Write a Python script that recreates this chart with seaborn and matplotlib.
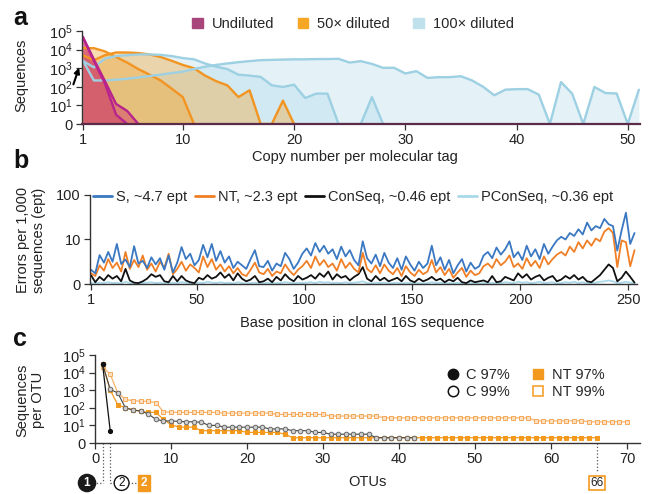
import pandas as pd
import seaborn as sns
import matplotlib.pyplot as plt
from matplotlib.patches import Patch
from matplotlib.lines import Line2D
from matplotlib import transforms
from matplotlib.ticker import NullLocator

# ---------------- data: panel a (sequences per copy number) ----------------
copy_number = list(range(1, 52))
undiluted_1 = [49000, 3000, 200, 12, 7, 0]
undiluted_2 = [49000, 2500, 150, 5, 0]
diluted50_1 = [12000, 12000, 8000, 4000, 2000, 900, 450, 220, 80, 28, 0]
diluted50_2 = [5000, 2700, 5000, 7000, 7000, 6500, 5500, 4000, 2500, 1500, 1000, 400,
               200, 120, 28, 65, 0, 0, 18, 0]
diluted100_1 = [2700, 220, 220, 240, 270, 320, 380, 450, 550, 650, 900, 1200, 1500, 1800,
                2100, 2400, 2700, 2800, 2900, 3000, 3000, 3100, 3100, 3200, 2000, 2400, 1700,
                1050, 1050, 520, 690, 300, 330, 330, 370, 220, 100, 35, 70, 75, 75, 38, 0,
                180, 43, 0, 98, 46, 44, 0, 70]
diluted100_2 = [2500, 1100, 3300, 4500, 5000, 5500, 5500, 5200, 4500, 3500, 3000, 1800, 1200,
                900, 450, 400, 340, 120, 98, 130, 25, 43, 43, 0, 0, 0, 28, 0]

# ---------------- data: panel b (errors per 1,000 sequences, every 2nd base) ----------------
base_pos = list(range(1, 254, 2))
err_s = [3.2, 2.4, 6.5, 4.8, 7.2, 5.0, 9.0, 4.5, 5.5, 3.8,
         8.5, 4.6, 5.2, 3.6, 6.0, 4.4, 5.8, 3.2, 6.4, 2.6,
         4.8, 8.3, 5.6, 6.8, 4.2, 5.4, 8.8, 6.0, 9.0, 5.2,
         7.4, 4.8, 6.2, 3.6, 5.0, 4.2, 3.4, 5.6, 7.6, 4.0,
         3.8, 5.2, 3.0, 4.6, 4.0, 7.0, 5.6, 3.4, 4.8, 6.8,
         8.0, 6.4, 9.2, 7.2, 8.6, 6.8, 7.8, 5.6, 8.4, 6.2,
         7.6, 5.4, 4.2, 9.6, 5.8, 4.6, 6.6, 4.0, 7.0, 4.8,
         3.6, 5.8, 3.2, 6.2, 4.4, 3.0, 5.0, 3.6, 4.6, 8.6,
         4.2, 6.0, 3.2, 5.4, 2.4, 4.2, 5.6, 2.8, 4.8, 3.4,
         4.0, 6.4, 7.2, 5.8, 8.2, 6.6, 7.8, 9.6, 6.0, 7.2,
         5.4, 8.6, 6.2, 7.8, 5.6, 9.0, 6.8, 8.4, 9.8, 11.5,
         10.0, 14.0, 12.0, 17.0, 13.0, 24.0, 16.0, 20.0, 18.0, 29.0,
         22.0, 20.0, 7.5, 16.0, 40.0, 9.0, 14.0]
err_nt = [2.4, 1.8, 4.2, 3.0, 5.6, 3.6, 4.8, 2.8, 7.2, 3.4,
          5.4, 3.8, 6.4, 3.2, 4.6, 2.8, 5.0, 3.6, 6.8, 2.2,
          3.4, 5.0, 3.0, 4.4, 3.6, 2.6, 6.2, 3.8, 5.6, 3.2,
          4.4, 2.8, 4.0, 2.4, 3.6, 2.2, 1.8, 3.2, 4.8, 2.6,
          2.2, 3.4, 1.8, 2.8, 2.4, 4.4, 3.0, 2.0, 3.2, 4.0,
          5.2, 3.6, 6.2, 4.2, 5.4, 3.8, 4.6, 3.0, 5.6, 3.6,
          4.8, 3.4, 2.6, 7.0, 3.4, 2.6, 4.2, 2.4, 4.4, 3.0,
          2.2, 3.6, 1.8, 4.0, 2.6, 1.8, 3.2, 2.2, 2.8, 5.4,
          2.6, 3.8, 2.0, 3.4, 1.4, 2.6, 3.6, 1.6, 3.0, 2.0,
          2.4, 4.0, 4.6, 3.6, 5.6, 4.2, 5.0, 6.4, 3.8, 4.6,
          3.4, 5.8, 4.0, 5.2, 3.6, 6.2, 4.4, 5.6, 6.6, 7.2,
          6.4, 8.4, 7.2, 9.4, 8.0, 9.8, 8.6, 10.5, 9.6, 15.0,
          18.0, 14.0, 3.8, 9.8, 9.4, 4.0, 7.6]
err_conseq = [2.0, 0.4, 1.6, 0.8, 2.0, 1.2, 1.8, 0.6, 3.4, 0.8,
              0.3, 0.2, 0.6, 1.2, 2.2, 1.6, 2.0, 0.6, 0.4, 1.8,
              0.6, 1.8, 0.8, 0.4, 0.2, 1.4, 1.0, 2.0, 1.2, 1.6,
              2.6, 1.4, 2.2, 0.8, 2.4, 1.2, 0.6, 1.0, 1.8, 0.4,
              0.6, 1.2, 0.4, 1.6, 0.8, 2.2, 1.2, 0.6, 1.8, 1.0,
              1.4, 2.0, 1.2, 2.4, 1.6, 2.8, 1.0, 2.2, 1.4, 1.8,
              0.8, 1.6, 2.2, 3.8, 1.2, 0.6, 1.8, 0.8, 1.4, 0.6,
              1.0, 1.4, 0.6, 1.8, 0.8, 0.4, 1.2, 0.6, 1.0, 1.6,
              0.8, 1.2, 0.4, 1.0, 0.6, 1.4, 0.4, 0.2, 0.8, 0.4,
              0.6, 0.8, 0.4, 1.8, 0.4, 0.6, 1.6, 1.2, 0.8, 2.4,
              1.4, 2.2, 1.0, 1.6, 2.0, 0.8, 1.4, 1.8, 0.6, 1.0,
              1.8, 1.2, 2.0, 1.0, 1.6, 0.6, 0.4, 1.2, 2.0, 3.2,
              4.4, 3.6, 0.6, 1.4, 2.8, 1.6, 0.3]
err_pconseq = [0.2, 0.1, 0.3, 0.2, 0.4, 0.2, 0.3, 0.1, 0.5, 0.2,
               0.1, 0.1, 0.2, 0.3, 0.4, 0.2, 0.3, 0.1, 0.2, 0.3,
               0.2, 0.4, 0.3, 0.1, 0.1, 0.3, 0.2, 0.5, 0.3, 0.2,
               0.4, 0.2, 0.3, 0.1, 0.4, 0.2, 0.1, 0.2, 0.3, 0.1,
               0.1, 0.3, 0.1, 0.2, 0.2, 0.4, 0.3, 0.1, 0.3, 0.2,
               0.3, 0.4, 0.2, 0.5, 0.3, 0.4, 0.2, 0.3, 0.2, 0.4,
               0.2, 0.3, 0.4, 0.6, 0.2, 0.1, 0.3, 0.2, 0.3, 0.1,
               0.2, 0.3, 0.1, 0.3, 0.2, 0.1, 0.2, 0.1, 0.2, 0.4,
               0.2, 0.3, 0.1, 0.2, 0.1, 0.3, 0.1, 0.1, 0.2, 0.1,
               0.1, 0.2, 0.1, 0.3, 0.1, 0.2, 0.4, 0.3, 0.2, 0.5,
               0.3, 0.4, 0.2, 0.3, 0.5, 0.2, 0.3, 0.4, 0.1, 0.2,
               0.4, 0.3, 0.5, 0.2, 0.4, 0.1, 0.1, 0.3, 0.5, 0.6,
               0.8, 0.6, 0.2, 0.3, 0.5, 0.3, 0.1]

# ---------------- data: panel c (sequences per OTU, ranked) ----------------
c97 = [30000, 7]
c99 = [30000, 1100, 700, 100, 75, 65, 45, 22, 18, 18, 17, 16, 16, 15, 10, 10, 9, 9, 9, 9,
       9, 9, 8, 8, 8, 7, 7, 7, 6, 6, 5, 5, 5, 5, 5, 5, 3, 3, 3, 3, 3, 3]
nt97 = [32000, 1000, 150, 100, 75, 65, 55, 55, 22, 11, 9, 9, 9, 7, 7, 7, 7, 7, 7, 6,
        6, 6, 6, 6, 5, 3, 3, 3, 3, 3, 3, 3, 3, 3, 3, 3, 3, 3, 3, 3, 3, 3, 3, 3, 3, 3,
        3, 3, 3, 3, 3, 3, 3, 3, 3, 3, 3, 3, 3, 3, 3, 3, 3, 3, 3, 3]
nt99 = [22000, 8000, 700, 300, 250, 240, 230, 200, 60, 55, 55, 55, 55, 55, 55, 55, 50, 50,
        50, 50, 50, 50, 50, 42, 42, 42, 42, 42, 42, 42, 34, 34, 34, 34, 34, 34, 34, 27, 27,
        27, 27, 27, 27, 27, 27, 27, 27, 27, 27, 27, 27, 27, 27, 27, 27, 27, 27, 18, 18, 18,
        18, 18, 18, 18, 16, 16, 16, 16, 16, 16]

# ---------------- styling ----------------
sns.set_style('ticks')
plt.rcParams['font.family'] = ['Liberation Sans', 'DejaVu Sans']
plt.rcParams['mathtext.fontset'] = 'custom'
plt.rcParams['mathtext.rm'] = 'Liberation Sans'
plt.rcParams['mathtext.it'] = 'Liberation Sans'
FS = 10.5
TXT = '#222222'

fig = plt.figure(figsize=(6.65, 4.94), dpi=100)
W, H = 665, 494
ax_a = fig.add_axes([81.6 / W, 1 - 124 / H, 558.4 / W, 93 / H])
ax_b = fig.add_axes([89.9 / W, 1 - 284 / H, 546.8 / W, 89 / H])
ax_c = fig.add_axes([95 / W, 1 - 443 / H, 545 / W, 88 / H])

log_ticks = [0, 10, 100, 1000, 10000, 100000]
log_labels = ['0'] + [r'$\mathregular{10^%d}$' % k for k in range(1, 6)]


def style_axis(ax):
    ax.set_yscale('symlog', linthresh=10, linscale=0.9)
    ax.yaxis.set_minor_locator(NullLocator())
    ax.xaxis.set_minor_locator(NullLocator())
    sns.despine(ax=ax)
    for s in ['left', 'bottom']:
        ax.spines[s].set_color('#333333')
        ax.spines[s].set_linewidth(1.0)
    ax.tick_params(direction='out', length=4.5, width=0.9, color='#333333',
                   labelsize=FS, labelcolor=TXT, pad=2)


# ---------------- panel a ----------------
blue_line, blue_fill = '#9dd0e2', '#a6d6e7'
orange_line, orange_fill = '#f29422', '#f2a93b'
mag_line, mag_fill = '#b8238e', '#d0406a'

for vals in [diluted100_1, diluted100_2]:
    ax_a.fill_between(copy_number[:len(vals)], vals, 0, color=blue_fill, alpha=0.3, lw=0)
for vals in [diluted50_1, diluted50_2]:
    ax_a.fill_between(copy_number[:len(vals)], vals, 0, color=orange_fill, alpha=0.4, lw=0)
for vals in [undiluted_1, undiluted_2]:
    ax_a.fill_between(copy_number[:len(vals)], vals, 0, color=mag_fill, alpha=0.5, lw=0)
for vals in [diluted50_1, diluted50_2]:
    sns.lineplot(x=copy_number[:len(vals)], y=vals, ax=ax_a, color=orange_line, lw=1.7)
for vals in [diluted100_1, diluted100_2]:
    sns.lineplot(x=copy_number[:len(vals)], y=vals, ax=ax_a, color=blue_line, lw=1.7)
for vals in [undiluted_1, undiluted_2]:
    sns.lineplot(x=copy_number[:len(vals)], y=vals, ax=ax_a, color=mag_line, lw=1.7)

style_axis(ax_a)
ax_a.set_ylim(0, 100000)
ax_a.set_xlim(0.9, 51.1)
ax_a.set_yticks(log_ticks)
ax_a.set_yticklabels(log_labels)
ax_a.set_xticks([1, 10, 20, 30, 40, 50])
ax_a.spines['bottom'].set_color('#5b2b47')
ax_a.spines['bottom'].set_linewidth(1.6)
ax_a.set_xlabel('Copy number per molecular tag', fontsize=FS, color=TXT)
ax_a.xaxis.set_label_coords(0.49, -0.355)
ax_a.xaxis.label.set_va('center')
ax_a.set_ylabel('Sequences', fontsize=FS, color=TXT)
ax_a.yaxis.set_label_coords(-0.1085, 0.527)
ax_a.yaxis.label.set_va('center')

ax_a.annotate('', xy=(80, H - 65), xycoords='figure pixels', xytext=(72.5, H - 87),
              textcoords='figure pixels',
              arrowprops=dict(arrowstyle='-|>', color='black', lw=1.5, mutation_scale=8))

leg_a = [Patch(color='#a8457a'), Patch(color='#f5a623'), Patch(color='#bfe1ec')]
fig.legend(leg_a, ['Undiluted', '50\u00d7 diluted', '100\u00d7 diluted'],
           loc='center left', bbox_to_anchor=(192 / W, 1 - 24 / H), ncol=3, frameon=False,
           fontsize=FS, handlelength=0.75, handleheight=0.75, handletextpad=0.6,
           columnspacing=1.6, borderpad=0, borderaxespad=0)

# ---------------- panel b ----------------
b_series = [(err_pconseq, '#a9d9ea', 'PConSeq, ~0.36 ept'),
            (err_conseq, '#111111', 'ConSeq, ~0.46 ept'),
            (err_nt, '#f07f25', 'NT, ~2.3 ept'),
            (err_s, '#3a78c2', 'S, ~4.7 ept')]
for vals, col, lab in b_series:
    sns.lineplot(x=base_pos, y=vals, ax=ax_b, color=col, lw=1.3)

style_axis(ax_b)
ax_b.set_ylim(0, 100)
ax_b.set_xlim(0.5, 254)
ax_b.set_yticks([0, 10, 100])
ax_b.set_yticklabels(['0', '10', '100'])
ax_b.set_xticks([1, 50, 100, 150, 200, 250])
ax_b.set_xlabel('Base position in clonal 16S sequence', fontsize=FS, color=TXT)
ax_b.xaxis.set_label_coords(0.498, -0.438)
ax_b.xaxis.label.set_va('center')
ax_b.set_ylabel('Errors per 1,000\nsequences (ept)', fontsize=FS, color=TXT, linespacing=1.15)
ax_b.yaxis.set_label_coords(-0.1077, 0.494)
ax_b.yaxis.label.set_va('center')

leg_b = [Line2D([], [], color=c, lw=2) for _, c, _ in b_series[::-1]]
fig.legend(leg_b, [l for _, _, l in b_series[::-1]], loc='center left',
           bbox_to_anchor=(93 / W, 1 - 197 / H), ncol=4, frameon=False, fontsize=FS,
           handlelength=1.3, handletextpad=0.3, columnspacing=0.5, borderpad=0,
           borderaxespad=0)

# ---------------- panel c ----------------
sns.lineplot(x=list(range(1, len(nt99) + 1)), y=nt99, ax=ax_c, color='#f6b46a', lw=0.9,
             marker='s', markersize=3.3, markerfacecolor='#fde0c0', markeredgecolor='#f4a85a',
             markeredgewidth=0.7)
sns.lineplot(x=list(range(1, len(nt97) + 1)), y=nt97, ax=ax_c, color='#f39a1e', lw=0.9,
             marker='s', markersize=3.3, markerfacecolor='#f39a1e', markeredgecolor='#f39a1e')
sns.lineplot(x=list(range(1, len(c99) + 1)), y=c99, ax=ax_c, color='#444444', lw=0.8,
             marker='o', markersize=3.3, markerfacecolor='#cfcfcf', markeredgecolor='#666666',
             markeredgewidth=0.7)
sns.lineplot(x=list(range(1, len(c97) + 1)), y=c97, ax=ax_c, color='#111111', lw=0.9,
             marker='o', markersize=3.0, markerfacecolor='#111111', markeredgecolor='#111111')

style_axis(ax_c)
ax_c.set_ylim(0, 100000)
ax_c.set_xlim(0, 71.7)
ax_c.set_yticks(log_ticks)
ax_c.set_yticklabels(log_labels)
ax_c.set_xticks(list(range(0, 71, 10)))
ax_c.set_xlabel('OTUs', fontsize=FS, color=TXT)
ax_c.xaxis.set_label_coords(0.5, -0.443)
ax_c.xaxis.label.set_va('center')
ax_c.set_ylabel('Sequences\nper OTU', fontsize=FS, color=TXT, linespacing=1.15)
ax_c.yaxis.set_label_coords(-0.119, 0.49)
ax_c.yaxis.label.set_va('center')

leg_c = [Line2D([], [], ls='none', marker='o', ms=7.5, mfc='#111111', mec='#111111'),
         Line2D([], [], ls='none', marker='o', ms=7.5, mfc='white', mec='#111111', mew=1.1),
         Line2D([], [], ls='none', marker='s', ms=7.5, mfc='#f39a1e', mec='#f39a1e'),
         Line2D([], [], ls='none', marker='s', ms=7.5, mfc='white', mec='#f39a1e', mew=1.1)]
fig.legend(leg_c, ['C 97%', 'C 99%', 'NT 97%', 'NT 99%'], loc='center left',
           bbox_to_anchor=(448 / W, 1 - 383.5 / H), ncol=2, frameon=False, fontsize=FS,
           handlelength=0.7, handletextpad=0.55, columnspacing=1.6, labelspacing=0.25,
           borderpad=0, borderaxespad=0)

# OTU count call-outs below the axis
tr = transforms.blended_transform_factory(ax_c.transData, fig.transFigure)
y_axis = 1 - 443 / H
y_ann = 1 - 483 / H
dot = dict(ls=':', color='#555555', lw=0.9, clip_on=False, transform=tr)
ax_c.plot([1, 1], [y_axis, y_ann], **dot)
ax_c.plot([2, 2], [y_axis, y_ann], **dot)
ax_c.plot([-0.2, 1], [y_ann, y_ann], **dot)
ax_c.plot([2, 2.6], [y_ann, y_ann], **dot)
ax_c.plot([4.4, 5.6], [y_ann, y_ann], **dot)
ax_c.plot([66, 66], [y_axis, 1 - 471 / H], **dot)
ax_c.text(-1.05, y_ann, '1', transform=tr, ha='center', va='center', color='white',
          fontsize=8.5, fontweight='bold', clip_on=False,
          bbox=dict(boxstyle='circle,pad=0.22', fc='#1a1a1a', ec='#1a1a1a'))
ax_c.text(3.5, y_ann, '2', transform=tr, ha='center', va='center', color='#111111',
          fontsize=8.5, clip_on=False,
          bbox=dict(boxstyle='circle,pad=0.12', fc='white', ec='#111111', lw=1.0))
ax_c.text(6.45, y_ann, '2', transform=tr, ha='center', va='center', color='white',
          fontsize=8.5, fontweight='bold', clip_on=False,
          bbox=dict(boxstyle='square,pad=0.2', fc='#f39a1e', ec='#f39a1e'))
ax_c.text(66, y_ann, '66', transform=tr, ha='center', va='center', color='#222222',
          fontsize=8.5, clip_on=False,
          bbox=dict(boxstyle='square,pad=0.12', fc='white', ec='#f39a1e', lw=1.2))

# panel letters
for letter, (px, py) in zip('abc', [(20, 18), (21, 161), (20, 339)]):
    fig.text(px / W, 1 - py / H, letter, fontsize=18, fontweight='bold', ha='center',
             va='center', color='#111111')

fig.savefig('out.png', dpi=100)
